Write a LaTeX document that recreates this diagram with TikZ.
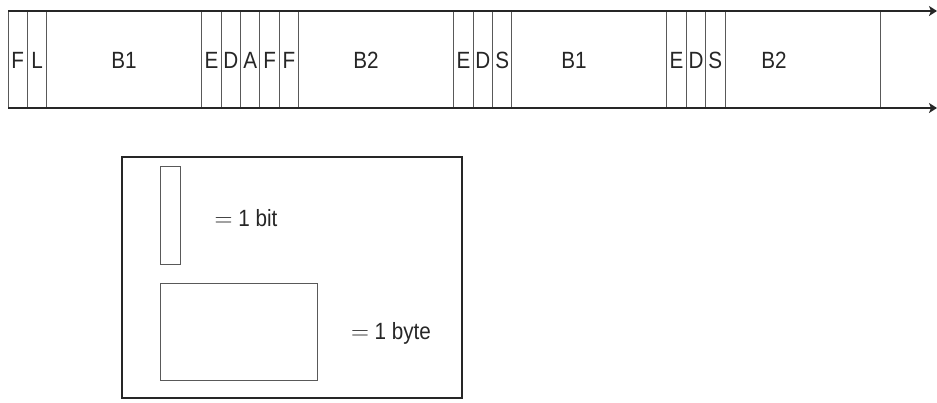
\documentclass[tikz,border=0pt]{standalone}
\usepackage{fontspec}
\setmainfont[FakeStretch=0.88]{Liberation Sans}
\usetikzlibrary{arrows.meta}
\tikzset{>={Stealth[length=8pt,width=10pt,inset=2pt]}}
\colorlet{linegray}{black!85}
\colorlet{divgray}{black!65}
\tikzset{
  rail/.style={->,linegray,line width=2pt},
  divider/.style={divgray,line width=1pt},
  legendbox/.style={linegray,line width=1.4pt},
  sample/.style={divgray,line width=1pt},
  fieldtxt/.style={inner sep=0,text=black!85,font=\fontsize{23.5}{26}\selectfont},
}
\def\bitw{19.38}
\begin{document}
\begin{tikzpicture}[x=1pt,y=-1pt]
  \useasboundingbox (0,0) rectangle (937,402);
  % frame rails
  \coordinate (topL) at (8,11);
  \coordinate (topR) at (937,11);
  \coordinate (botL) at (8,108);
  \coordinate (botR) at (937,108);
  \draw[rail] (topL) -- (topR);
  \draw[rail] (botL) -- (botR);
  % field borders
  \foreach \k in {0,1,2,10,11,12,13,14,15,23,24,25,26,34,35,36,37,45}
    \draw[divider] (8+\k*\bitw,12) -- (8+\k*\bitw,107);
  % field labels
  \foreach \k/\t/\n in {0/F/f1,1/L/l1,10/E/e1,11/D/d1,12/A/a1,13/F/f2,14/F/f3,
                        23/E/e2,24/D/d2,25/S/s2,34/E/e3,35/D/d3,36/S/s3}
    \node[fieldtxt] (\n) at (8+\k*\bitw+0.5*\bitw,60) {\t};
  \node[fieldtxt] (bA) at (124,60) {B1};
  \node[fieldtxt] (bB) at (366,60) {B2};
  \node[fieldtxt] (bC) at (574,60) {B1};
  \node[fieldtxt] (bD) at (774,60) {B2};
  % legend
  \draw[legendbox] (122,157) rectangle (462,398);
  \draw[sample] (160,166) rectangle (180,264);
  \draw[sample] (160,283) rectangle (317,380);
  \node[fieldtxt] (bittxt) at (246,218) {$=$ 1 bit};
  \node[fieldtxt] (bytetxt) at (391,333) {$=$ 1 byte};
\end{tikzpicture}
\end{document}
